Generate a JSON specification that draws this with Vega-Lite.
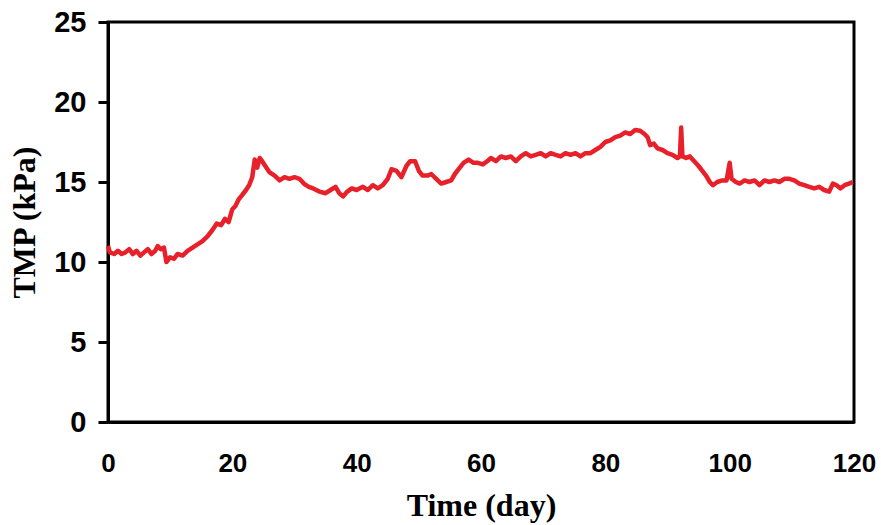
{
  "$schema": "https://vega.github.io/schema/vega-lite/v6.json",
  "width": 746,
  "height": 400,
  "autosize": {"type": "none"},
  "padding": {"left": 108, "top": 22, "right": 27, "bottom": 103},
  "background": "white",
  "config": {
    "view": {"stroke": "black", "strokeWidth": 3},
    "axis": {"grid": false, "domainColor": "black", "domainWidth": 3, "tickColor": "black", "tickWidth": 3, "labelColor": "black", "titleColor": "black"}
  },
  "data": {
    "values": [
      {"day": 0, "tmp": 11.0}, {"day": 0.3, "tmp": 10.6}, {"day": 1, "tmp": 10.5}, {"day": 1.6, "tmp": 10.7},
      {"day": 2.2, "tmp": 10.5}, {"day": 2.8, "tmp": 10.6}, {"day": 3.4, "tmp": 10.8}, {"day": 4, "tmp": 10.5},
      {"day": 4.6, "tmp": 10.7}, {"day": 5.2, "tmp": 10.4}, {"day": 5.8, "tmp": 10.6}, {"day": 6.4, "tmp": 10.8},
      {"day": 7, "tmp": 10.5}, {"day": 7.6, "tmp": 10.7}, {"day": 8, "tmp": 11.0}, {"day": 8.5, "tmp": 10.8},
      {"day": 9, "tmp": 10.9}, {"day": 9.4, "tmp": 10.0}, {"day": 10, "tmp": 10.3}, {"day": 10.6, "tmp": 10.2},
      {"day": 11.2, "tmp": 10.5}, {"day": 12, "tmp": 10.4}, {"day": 12.8, "tmp": 10.7}, {"day": 13.6, "tmp": 10.9},
      {"day": 14.4, "tmp": 11.1}, {"day": 15.2, "tmp": 11.3}, {"day": 16, "tmp": 11.6}, {"day": 16.8, "tmp": 12.0},
      {"day": 17.5, "tmp": 12.4}, {"day": 18.2, "tmp": 12.3}, {"day": 18.8, "tmp": 12.7}, {"day": 19.4, "tmp": 12.5},
      {"day": 20, "tmp": 13.3}, {"day": 20.5, "tmp": 13.5}, {"day": 21, "tmp": 13.9}, {"day": 21.6, "tmp": 14.2},
      {"day": 22.2, "tmp": 14.5}, {"day": 22.7, "tmp": 14.8}, {"day": 23.2, "tmp": 15.3}, {"day": 23.6, "tmp": 16.4},
      {"day": 24, "tmp": 15.9}, {"day": 24.4, "tmp": 16.5}, {"day": 24.8, "tmp": 16.3}, {"day": 25.3, "tmp": 16.0},
      {"day": 26, "tmp": 15.6}, {"day": 26.8, "tmp": 15.4}, {"day": 27.6, "tmp": 15.1}, {"day": 28.4, "tmp": 15.3},
      {"day": 29.2, "tmp": 15.2}, {"day": 30, "tmp": 15.3}, {"day": 30.8, "tmp": 15.2}, {"day": 31.5, "tmp": 14.9},
      {"day": 32.3, "tmp": 14.7}, {"day": 33, "tmp": 14.6}, {"day": 34, "tmp": 14.4}, {"day": 35, "tmp": 14.3},
      {"day": 35.8, "tmp": 14.5}, {"day": 36.6, "tmp": 14.7}, {"day": 37.2, "tmp": 14.3}, {"day": 37.8, "tmp": 14.1},
      {"day": 38.5, "tmp": 14.4}, {"day": 39.2, "tmp": 14.6}, {"day": 40, "tmp": 14.5}, {"day": 41, "tmp": 14.7},
      {"day": 41.8, "tmp": 14.5}, {"day": 42.6, "tmp": 14.8}, {"day": 43.4, "tmp": 14.6}, {"day": 44.2, "tmp": 14.8},
      {"day": 45, "tmp": 15.2}, {"day": 45.6, "tmp": 15.8}, {"day": 46.4, "tmp": 15.7}, {"day": 47.2, "tmp": 15.3},
      {"day": 48, "tmp": 16.0}, {"day": 48.6, "tmp": 16.3}, {"day": 49.4, "tmp": 16.3}, {"day": 50, "tmp": 15.7},
      {"day": 50.6, "tmp": 15.4}, {"day": 51.4, "tmp": 15.4}, {"day": 52, "tmp": 15.5}, {"day": 52.8, "tmp": 15.2},
      {"day": 53.6, "tmp": 14.9}, {"day": 54.4, "tmp": 15.0}, {"day": 55.2, "tmp": 15.1}, {"day": 55.8, "tmp": 15.5},
      {"day": 56.4, "tmp": 15.8}, {"day": 57.2, "tmp": 16.2}, {"day": 58, "tmp": 16.4}, {"day": 58.8, "tmp": 16.2},
      {"day": 59.5, "tmp": 16.2}, {"day": 60.3, "tmp": 16.1}, {"day": 61, "tmp": 16.3}, {"day": 61.6, "tmp": 16.5},
      {"day": 62.4, "tmp": 16.3}, {"day": 63.2, "tmp": 16.6}, {"day": 64, "tmp": 16.5}, {"day": 64.8, "tmp": 16.6},
      {"day": 65.6, "tmp": 16.3}, {"day": 66.4, "tmp": 16.6}, {"day": 67.2, "tmp": 16.8}, {"day": 68, "tmp": 16.6},
      {"day": 68.8, "tmp": 16.7}, {"day": 69.6, "tmp": 16.8}, {"day": 70.4, "tmp": 16.6}, {"day": 71.2, "tmp": 16.8},
      {"day": 72, "tmp": 16.7}, {"day": 72.8, "tmp": 16.6}, {"day": 73.6, "tmp": 16.8}, {"day": 74.4, "tmp": 16.7},
      {"day": 75.2, "tmp": 16.8}, {"day": 76, "tmp": 16.6}, {"day": 76.8, "tmp": 16.8}, {"day": 77.6, "tmp": 16.8},
      {"day": 78.4, "tmp": 17.0}, {"day": 79.2, "tmp": 17.2}, {"day": 80, "tmp": 17.5}, {"day": 80.8, "tmp": 17.6},
      {"day": 81.6, "tmp": 17.8}, {"day": 82.4, "tmp": 17.9}, {"day": 83.2, "tmp": 18.1}, {"day": 84, "tmp": 18.0},
      {"day": 84.8, "tmp": 18.25}, {"day": 85.6, "tmp": 18.2}, {"day": 86.3, "tmp": 18.0}, {"day": 86.8, "tmp": 17.8},
      {"day": 87.2, "tmp": 17.3}, {"day": 87.8, "tmp": 17.4}, {"day": 88.4, "tmp": 17.1}, {"day": 89.2, "tmp": 17.0},
      {"day": 90, "tmp": 16.8}, {"day": 90.8, "tmp": 16.7}, {"day": 91.6, "tmp": 16.5}, {"day": 92, "tmp": 16.6},
      {"day": 92.2, "tmp": 18.4}, {"day": 92.4, "tmp": 16.6}, {"day": 93, "tmp": 16.5}, {"day": 93.6, "tmp": 16.6},
      {"day": 94.3, "tmp": 16.3}, {"day": 95, "tmp": 16.0}, {"day": 95.6, "tmp": 15.7}, {"day": 96.2, "tmp": 15.4},
      {"day": 96.8, "tmp": 15.0}, {"day": 97.3, "tmp": 14.8}, {"day": 98, "tmp": 15.0}, {"day": 98.8, "tmp": 15.1},
      {"day": 99.5, "tmp": 15.1}, {"day": 100, "tmp": 16.2}, {"day": 100.3, "tmp": 15.2}, {"day": 101, "tmp": 15.0},
      {"day": 101.6, "tmp": 14.9}, {"day": 102.4, "tmp": 15.1}, {"day": 103.2, "tmp": 15.0}, {"day": 104, "tmp": 15.1},
      {"day": 104.8, "tmp": 14.8}, {"day": 105.6, "tmp": 15.1}, {"day": 106.4, "tmp": 15.0}, {"day": 107.2, "tmp": 15.1},
      {"day": 108, "tmp": 15.0}, {"day": 108.8, "tmp": 15.2}, {"day": 109.6, "tmp": 15.2}, {"day": 110.4, "tmp": 15.1},
      {"day": 111.2, "tmp": 14.9}, {"day": 112, "tmp": 14.8}, {"day": 112.8, "tmp": 14.7}, {"day": 113.6, "tmp": 14.6},
      {"day": 114.4, "tmp": 14.7}, {"day": 115.2, "tmp": 14.5}, {"day": 116, "tmp": 14.4}, {"day": 116.6, "tmp": 14.9},
      {"day": 117.2, "tmp": 14.8}, {"day": 117.8, "tmp": 14.6}, {"day": 118.5, "tmp": 14.8}, {"day": 119.2, "tmp": 14.9},
      {"day": 119.8, "tmp": 15.0}
    ]
  },
  "mark": {"type": "line", "color": "#e8202a", "strokeWidth": 4.5, "strokeJoin": "round"},
  "encoding": {
    "x": {
      "field": "day", "type": "quantitative",
      "scale": {"domain": [0, 120], "nice": false, "zero": false},
      "axis": {
        "title": "Time (day)", "values": [0, 20, 40, 60, 80, 100, 120],
        "ticks": false, "labelPadding": 28,
        "labelFont": "Liberation Sans", "labelFontWeight": "bold", "labelFontSize": 26,
        "labelFlush": false,
        "titleFont": "Liberation Serif", "titleFontWeight": "bold", "titleFontSize": 32, "titlePadding": 14
      }
    },
    "y": {
      "field": "tmp", "type": "quantitative",
      "scale": {"domain": [0, 25], "nice": false},
      "axis": {
        "title": "TMP (kPa)", "values": [0, 5, 10, 15, 20, 25],
        "tickSize": 10, "labelPadding": 12,
        "labelFont": "Liberation Sans", "labelFontWeight": "bold", "labelFontSize": 29,
        "labelFlush": false,
        "titleFont": "Liberation Serif", "titleFontWeight": "bold", "titleFontSize": 32, "titlePadding": 12
      }
    }
  }
}
